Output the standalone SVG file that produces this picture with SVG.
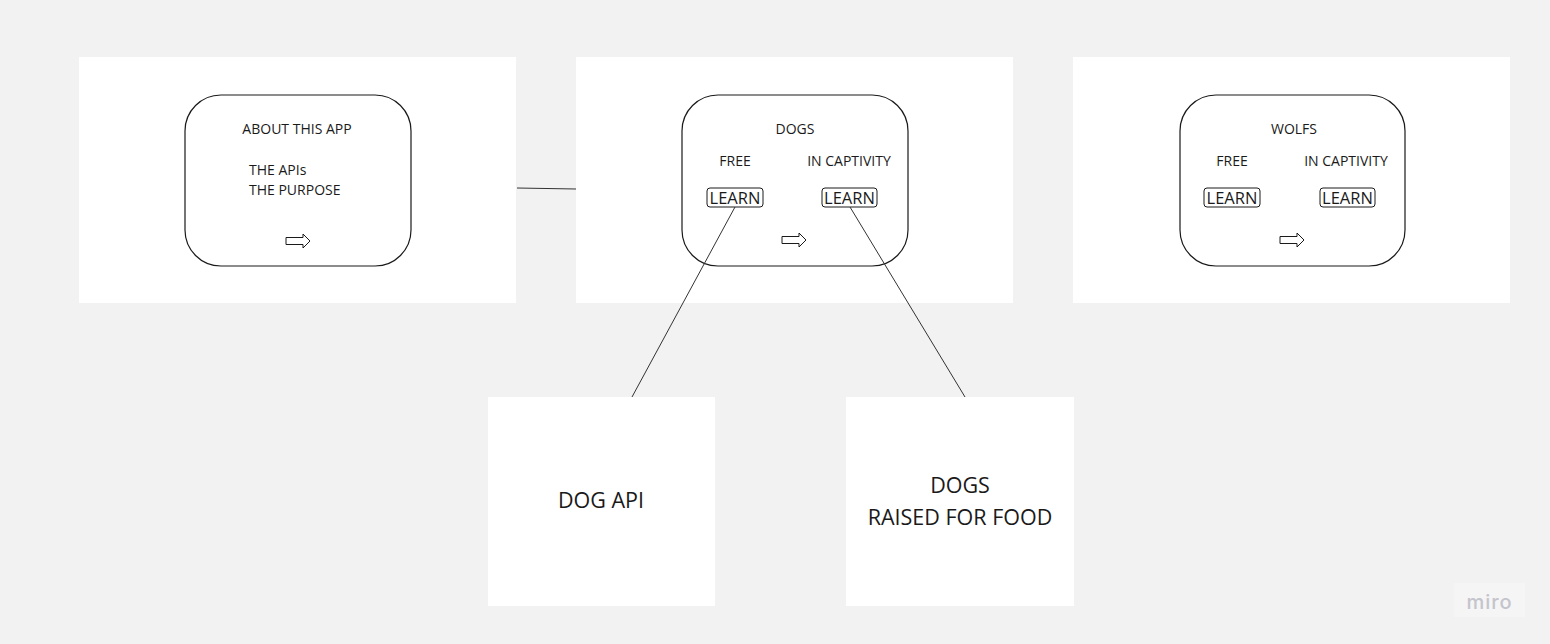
<svg xmlns="http://www.w3.org/2000/svg" width="1550" height="644" viewBox="0 0 1550 644">
<defs>
<style>
.frame{fill:#ffffff;}
.card{fill:#ffffff;stroke:#1a1a1a;stroke-width:1.2;}
.t{font-family:"Open Sans","Liberation Sans",sans-serif;font-size:14px;fill:#1a1a1a;}
.lt{font-family:"Open Sans","Liberation Sans",sans-serif;font-size:16.5px;fill:#1a1a1a;text-anchor:middle;}
.big{font-family:"Open Sans","Liberation Sans",sans-serif;font-size:21.5px;fill:#1a1a1a;text-anchor:middle;}
.btn{fill:none;stroke:#1a1a1a;stroke-width:1;}
.arr{fill:#ffffff;stroke:#1a1a1a;stroke-width:1;}
.c{stroke:#333333;stroke-width:1;fill:none;}
.m{text-anchor:middle;}
</style>
<path id="blockArrow" d="M0,3.5 H17 V0 L24,7 L17,14 V10.5 H0 Z"/>
</defs>
<rect width="1550" height="644" fill="#f2f2f2"/>

<g id="frame-about">
<rect class="frame" x="79" y="57" width="437" height="246"/>
<rect class="card" x="185" y="95" width="226" height="171" rx="36"/>
<text class="t m" x="297" y="134">ABOUT THIS APP</text>
<text class="t" x="249" y="175">THE APIs</text>
<text class="t" x="249" y="195">THE PURPOSE</text>
<use href="#blockArrow" class="arr" x="286" y="234"/>
</g>

<g id="frame-dogs">
<rect class="frame" x="576" y="57" width="437" height="246"/>
<rect class="card" x="682" y="95" width="226" height="171" rx="36"/>
<text class="t m" x="795" y="134">DOGS</text>
<text class="t m" x="735" y="166">FREE</text>
<text class="t m" x="849" y="166">IN CAPTIVITY</text>
<rect class="btn" x="707" y="188" width="56" height="19" rx="3"/>
<text class="lt" x="735" y="203.5">LEARN</text>
<rect class="btn" x="822" y="188" width="55" height="19" rx="3"/>
<text class="lt" x="849.5" y="203.5">LEARN</text>
<use href="#blockArrow" class="arr" x="782" y="233"/>
</g>

<g id="frame-wolfs">
<rect class="frame" x="1073" y="57" width="437" height="246"/>
<rect class="card" x="1180" y="95" width="225" height="171" rx="36"/>
<text class="t m" x="1294" y="134">WOLFS</text>
<text class="t m" x="1232" y="166">FREE</text>
<text class="t m" x="1346" y="166">IN CAPTIVITY</text>
<rect class="btn" x="1204" y="188" width="56" height="19" rx="3"/>
<text class="lt" x="1232" y="203.5">LEARN</text>
<rect class="btn" x="1320" y="188" width="55" height="19" rx="3"/>
<text class="lt" x="1347.5" y="203.5">LEARN</text>
<use href="#blockArrow" class="arr" x="1280" y="233"/>
</g>

<g id="dog-api">
<rect class="frame" x="488" y="397" width="227" height="209"/>
<text class="big" x="601" y="508">DOG API</text>
</g>

<g id="dogs-food">
<rect class="frame" x="846" y="397" width="228" height="209"/>
<text class="big" x="960" y="493">DOGS</text>
<text class="big" x="960" y="525">RAISED FOR FOOD</text>
</g>

<g id="connectors">
<line class="c" x1="517" y1="188" x2="576" y2="189"/>
<line class="c" x1="735" y1="207" x2="632" y2="397"/>
<line class="c" x1="850" y1="207" x2="965" y2="397"/>
</g>

<g id="watermark">
<rect x="1454" y="583" width="71" height="34" fill="#f5f5f5"/>
<text x="1489.5" y="609" text-anchor="middle" font-family="Inter,'Open Sans',sans-serif" font-size="20" font-weight="500" fill="#c4c4cc" letter-spacing="1">miro</text>
</g>
</svg>
